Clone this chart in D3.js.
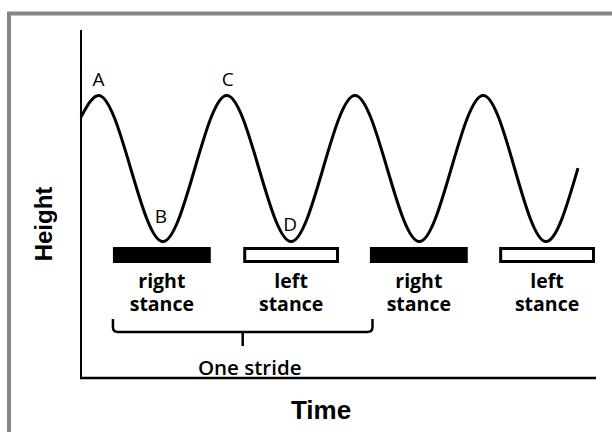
<!DOCTYPE html>
<html>
<head>
<meta charset="utf-8">
<script src="https://cdn.jsdelivr.net/npm/d3@7"></script>
<style>
  body { margin: 0; background: #fff; }
</style>
</head>
<body>
<script>
// extrema of the body height trace (time, height), arbitrary units
const times = [0, 3.4, 15.9, 28.3, 40.8, 53.2, 65.7, 78.1, 90.3, 96.5];
const heights = [75.0, 81.2, 39.2, 81.2, 39.2, 81.2, 39.2, 81.2, 39.2, 60.3];

// labelled points on the trace
const pointLabels = ["A", "B", "C", "D"];
const pointIndex = [1, 2, 3, 4];

// stance phases (start, end time)
const stanceStart = [6.2, 31.5, 56.1, 81.2];
const stanceEnd = [25.2, 50.1, 75.1, 99.8];
const stanceSide = ["right", "left", "right", "left"];

// one stride
const strideStart = 6.2;
const strideEnd = 56.6;

const W = 612, H = 432;
const margin = { top: 30, right: 16, bottom: 54, left: 81 };

const svg = d3.select("body")
    .append("svg")
    .attr("width", W)
    .attr("height", H);

// grey frame, only top and left visible
svg.append("rect")
    .attr("x", 9)
    .attr("y", 13.5)
    .attr("width", W + 20)
    .attr("height", H + 20)
    .attr("fill", "none")
    .attr("stroke", "#858585")
    .attr("stroke-width", 4);

const x = d3.scaleLinear()
    .domain([0, 100])
    .range([margin.left, W - margin.right]);
const y = d3.scaleLinear()
    .domain([0, 100])
    .range([H - margin.bottom, margin.top]);

// axes as plain lines
svg.append("line")
    .attr("x1", x(0)).attr("x2", x(0))
    .attr("y1", y(0)).attr("y2", y(100))
    .attr("stroke", "#000").attr("stroke-width", 2);
svg.append("line")
    .attr("x1", x(0) - 1).attr("x2", x(100))
    .attr("y1", y(0)).attr("y2", y(0))
    .attr("stroke", "#000").attr("stroke-width", 2.5);

const pts = times.map((t, i) => [t, heights[i]]);
const line = d3.line()
    .x(d => x(d[0]))
    .y(d => y(d[1]))
    .curve(d3.curveMonotoneX);

svg.append("path")
    .attr("d", line(pts))
    .attr("fill", "none")
    .attr("stroke", "#000")
    .attr("stroke-width", 3);

// point letters
const letterOffset = { A: [0, -9], B: [-2, -19], C: [1, -9], D: [-1, -11] };
svg.selectAll(".pt")
    .data(pointLabels)
    .join("text")
    .attr("class", "pt")
    .attr("x", (d, i) => x(times[pointIndex[i]]) + letterOffset[d][0])
    .attr("y", (d, i) => y(heights[pointIndex[i]]) + letterOffset[d][1])
    .attr("text-anchor", "middle")
    .attr("font-family", "Open Sans")
    .attr("font-size", 19)
    .text(d => d);

// stance bars
const barTop = 248.5, barH = 13;
svg.selectAll(".bar")
    .data(stanceStart)
    .join("rect")
    .attr("class", "bar")
    .attr("x", (d, i) => x(d) + 1.5)
    .attr("y", barTop)
    .attr("width", (d, i) => x(stanceEnd[i]) - x(d) - 3)
    .attr("height", barH)
    .attr("fill", (d, i) => stanceSide[i] === "right" ? "#000" : "#fff")
    .attr("stroke", "#000")
    .attr("stroke-width", 3);

// two lines under each bar
[[0, 288, d => d], [1, 311, () => "stance"]].forEach(([k, yy, txt]) => {
    svg.selectAll(".stance" + k)
        .data(stanceSide)
        .join("text")
        .attr("class", "stance" + k)
        .attr("x", (d, i) => x((stanceStart[i] + stanceEnd[i]) / 2))
        .attr("y", yy)
        .attr("text-anchor", "middle")
        .attr("font-family", "Open Sans")
        .attr("font-weight", "bold")
        .attr("font-size", 19.5)
        .text(txt);
});

// stride bracket
const x0 = x(strideStart), x1 = x(strideEnd), xm = (x0 + x1) / 2;
const bTop = 319, bY = 332, r = 5;
svg.append("path")
    .attr("d", `M${x0},${bTop} V${bY - r} Q${x0},${bY} ${x0 + r},${bY} H${x1 - r} Q${x1},${bY} ${x1},${bY - r} V${bTop} M${xm},${bY} V346`)
    .attr("fill", "none")
    .attr("stroke", "#000")
    .attr("stroke-width", 2.5);

svg.append("text")
    .attr("x", xm + 7)
    .attr("y", 375)
    .attr("text-anchor", "middle")
    .attr("font-family", "Open Sans")
    .attr("font-weight", 600)
    .attr("font-size", 20.5)
    .text("One stride");

// axis titles
svg.append("text")
    .attr("x", 321)
    .attr("y", 419)
    .attr("text-anchor", "middle")
    .attr("font-family", "Liberation Sans")
    .attr("font-weight", "bold")
    .attr("font-size", 26)
    .text("Time");

svg.append("text")
    .attr("transform", "translate(52,224) rotate(-90)")
    .attr("text-anchor", "middle")
    .attr("font-family", "Liberation Sans")
    .attr("font-weight", "bold")
    .attr("font-size", 24)
    .text("Height");
</script>
</body>
</html>
